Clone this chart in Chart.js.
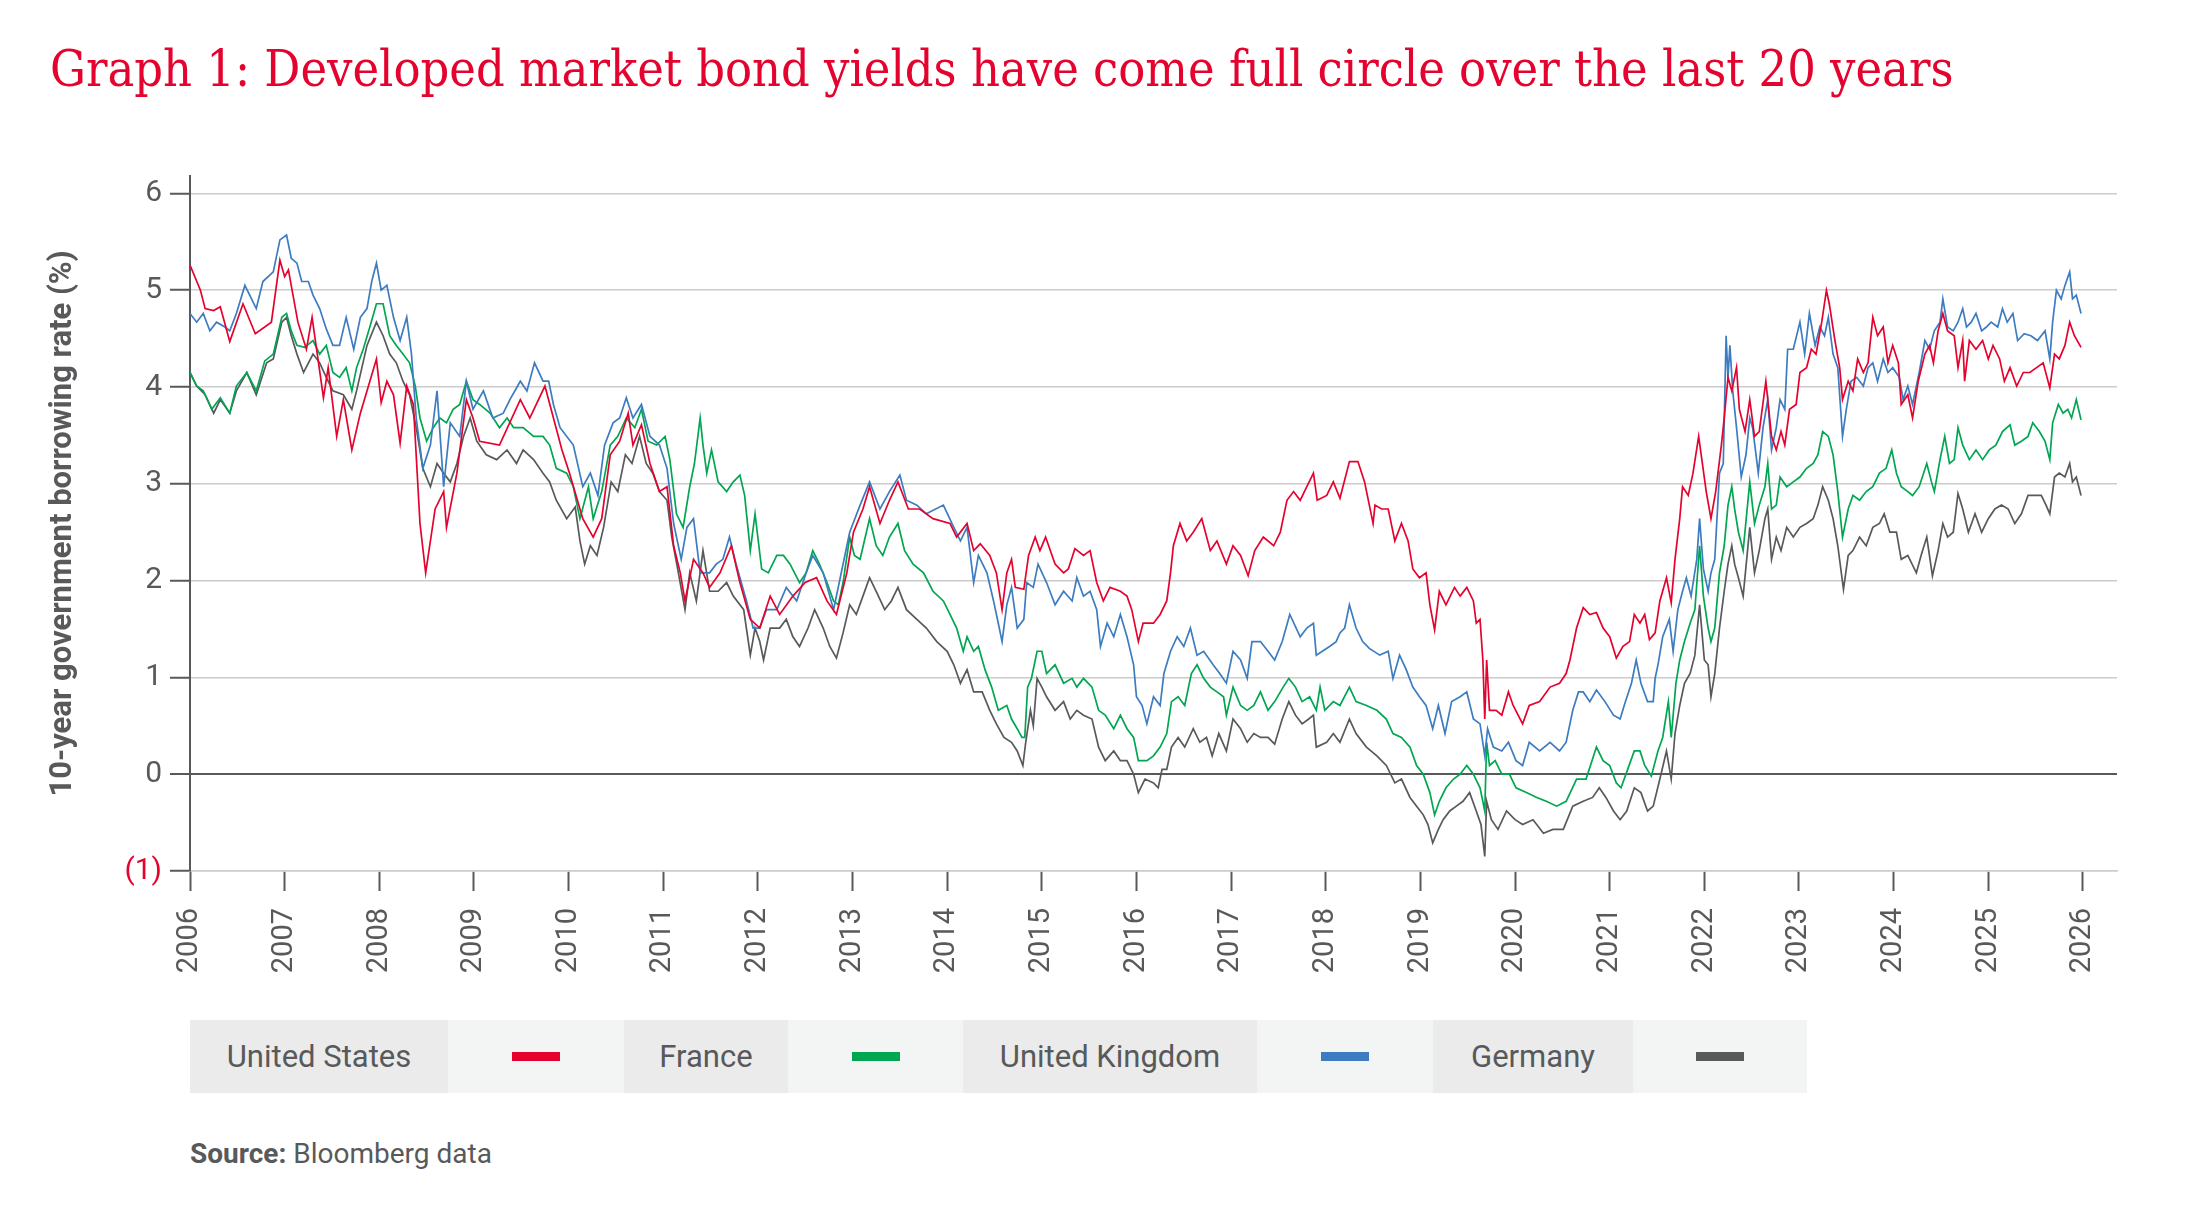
<!DOCTYPE html>
<html>
<head>
<meta charset="utf-8">
<script src="https://cdn.jsdelivr.net/npm/chart.js@4.4.0/dist/chart.umd.min.js"></script>
<style>
  body { margin: 0; background: #fff; width: 2188px; height: 1228px; position: relative; overflow: hidden; font-family: Roboto, sans-serif; color: #58595b; }
  #title { position: absolute; left: 50px; top: 44px; margin: 0; font-family: "DejaVu Serif", serif; font-stretch: condensed; font-weight: normal; font-size: 50px; line-height: 1; color: #e4032e; white-space: nowrap; }
  #chartBox { position: absolute; left: 0; top: 150px; width: 2188px; height: 850px; }
  #legend { position: absolute; left: 190px; top: 1020px; height: 73px; display: flex; }
  #legend div { height: 73px; display: flex; align-items: center; justify-content: center; font-size: 31px; color: #58595b; }
  #legend .lab { background: #ebebeb; }
  #legend .sw { background: #f3f4f4; }
  #legend .sw span { display: block; width: 48px; height: 9px; }
  #source { position: absolute; left: 190px; top: 1140px; font-size: 28px; line-height: 1; color: #58595b; }
</style>
</head>
<body>
<h1 id="title">Graph 1: Developed market bond yields have come full circle over the last 20 years</h1>
<div id="chartBox"><canvas id="bondChart" width="2188" height="850"></canvas></div>
<div id="legend"></div>
<div id="source"><b>Source:</b> Bloomberg data</div>
<script>
// 10-year yields, [decimal year, %]
const usYield = [
  [2006.00,5.26],[2006.11,5.00],[2006.16,4.81],[2006.25,4.79],[2006.32,4.83],[2006.42,4.47],[2006.56,4.86],[2006.69,4.55],[2006.86,4.67],[2006.95,5.31],
  [2007.00,5.14],[2007.04,5.21],[2007.14,4.67],[2007.23,4.39],[2007.29,4.72],[2007.41,3.89],[2007.46,4.20],[2007.55,3.49],[2007.62,3.87],[2007.71,3.35],[2007.80,3.73],[2007.97,4.29],
  [2008.02,3.84],[2008.08,4.06],[2008.15,3.92],[2008.22,3.42],[2008.29,4.01],[2008.36,3.82],[2008.43,2.59],[2008.49,2.08],[2008.59,2.74],[2008.68,2.92],[2008.71,2.55],[2008.82,3.11],[2008.92,3.87],[2008.99,3.68],
  [2009.06,3.44],[2009.27,3.40],[2009.49,3.87],[2009.59,3.68],[2009.75,4.01],[2009.93,3.35],
  [2010.01,3.11],[2010.15,2.64],[2010.26,2.45],[2010.35,2.64],[2010.44,3.30],[2010.54,3.44],[2010.63,3.73],[2010.68,3.40],[2010.77,3.61],[2010.86,3.21],[2010.96,2.92],
  [2011.04,2.97],[2011.11,2.36],[2011.18,2.08],[2011.23,1.79],[2011.32,2.22],[2011.42,2.08],[2011.49,1.93],[2011.60,2.08],[2011.72,2.36],[2011.81,1.98],[2011.92,1.60],
  [2012.02,1.51],[2012.13,1.84],[2012.23,1.65],[2012.37,1.84],[2012.50,1.98],[2012.62,2.03],[2012.73,1.79],[2012.83,1.65],[2012.94,2.08],
  [2013.01,2.50],[2013.11,2.74],[2013.18,2.97],[2013.29,2.59],[2013.39,2.83],[2013.48,3.02],[2013.59,2.74],[2013.71,2.74],[2013.85,2.64],
  [2014.03,2.59],[2014.10,2.45],[2014.21,2.59],[2014.28,2.31],[2014.35,2.38],[2014.45,2.26],[2014.52,2.08],[2014.58,1.70],[2014.63,2.08],[2014.68,2.22],[2014.72,1.93],[2014.81,1.91],[2014.86,2.26],[2014.93,2.45],[2014.98,2.31],
  [2015.04,2.45],[2015.14,2.17],[2015.23,2.08],[2015.28,2.12],[2015.35,2.33],[2015.44,2.26],[2015.51,2.31],[2015.58,1.98],[2015.65,1.79],[2015.72,1.93],[2015.83,1.89],[2015.90,1.84],[2015.95,1.70],
  [2016.02,1.37],[2016.07,1.56],[2016.18,1.56],[2016.25,1.65],[2016.32,1.79],[2016.36,2.08],[2016.39,2.36],[2016.46,2.59],[2016.53,2.41],[2016.60,2.50],[2016.69,2.64],[2016.78,2.31],[2016.85,2.41],[2016.95,2.17],
  [2017.02,2.36],[2017.10,2.26],[2017.18,2.05],[2017.25,2.31],[2017.34,2.45],[2017.45,2.36],[2017.52,2.50],[2017.59,2.83],[2017.66,2.92],[2017.73,2.83],[2017.80,2.97],[2017.87,3.11],[2017.91,2.83],
  [2018.01,2.88],[2018.08,3.02],[2018.15,2.85],[2018.25,3.23],[2018.34,3.23],[2018.41,3.02],[2018.50,2.59],[2018.52,2.78],[2018.59,2.74],[2018.66,2.74],[2018.73,2.41],[2018.80,2.59],[2018.87,2.41],[2018.92,2.12],[2018.99,2.03],
  [2019.06,2.08],[2019.10,1.75],[2019.15,1.49],[2019.20,1.89],[2019.27,1.75],[2019.36,1.93],[2019.42,1.84],[2019.49,1.93],[2019.56,1.79],[2019.59,1.56],[2019.63,1.60],[2019.66,1.18],[2019.68,0.57],[2019.70,1.18],[2019.73,0.66],[2019.80,0.66],[2019.86,0.61],[2019.93,0.85],[2019.98,0.71],
  [2020.08,0.52],[2020.15,0.71],[2020.26,0.75],[2020.37,0.90],[2020.47,0.94],[2020.54,1.04],[2020.58,1.18],[2020.65,1.51],[2020.72,1.72],[2020.79,1.65],[2020.86,1.67],[2020.93,1.51],
  [2021.00,1.42],[2021.07,1.20],[2021.14,1.32],[2021.21,1.37],[2021.26,1.65],[2021.32,1.56],[2021.37,1.65],[2021.42,1.39],[2021.48,1.46],[2021.53,1.79],[2021.60,2.03],[2021.65,1.77],[2021.69,2.22],[2021.74,2.64],[2021.77,2.97],[2021.83,2.88],[2021.88,3.11],[2021.94,3.49],
  [2022.02,2.92],[2022.07,2.64],[2022.12,2.92],[2022.18,3.40],[2022.21,3.68],[2022.25,4.10],[2022.29,3.96],[2022.34,4.20],[2022.37,3.77],[2022.43,3.54],[2022.48,3.87],[2022.53,3.49],[2022.58,3.54],[2022.65,4.06],[2022.71,3.49],[2022.76,3.35],[2022.81,3.54],[2022.85,3.40],[2022.90,3.77],[2022.97,3.82],
  [2023.01,4.15],[2023.08,4.20],[2023.13,4.39],[2023.18,4.34],[2023.24,4.67],[2023.29,5.00],[2023.32,4.86],[2023.38,4.48],[2023.43,4.20],[2023.46,3.87],[2023.52,4.06],[2023.57,3.96],[2023.62,4.29],[2023.68,4.15],[2023.73,4.25],[2023.78,4.72],[2023.83,4.53],[2023.89,4.62],[2023.94,4.25],[2023.99,4.43],
  [2024.05,4.25],[2024.08,3.82],[2024.15,3.92],[2024.20,3.68],[2024.26,4.06],[2024.33,4.34],[2024.38,4.43],[2024.42,4.25],[2024.47,4.58],[2024.52,4.76],[2024.57,4.58],[2024.64,4.53],[2024.68,4.20],[2024.73,4.48],[2024.75,4.06],[2024.80,4.48],[2024.87,4.39],[2024.94,4.48],
  [2025.00,4.29],[2025.05,4.43],[2025.12,4.29],[2025.17,4.06],[2025.23,4.20],[2025.30,4.01],[2025.37,4.15],[2025.44,4.15],[2025.51,4.20],[2025.58,4.25],[2025.65,3.99],[2025.70,4.34],[2025.75,4.29],[2025.81,4.43],[2025.86,4.67],[2025.91,4.53],[2025.98,4.41]
];

const ukYield = [
  [2006.00,4.76],[2006.07,4.67],[2006.14,4.76],[2006.21,4.58],[2006.28,4.67],[2006.37,4.62],[2006.42,4.58],[2006.49,4.76],[2006.58,5.05],[2006.65,4.91],[2006.70,4.81],[2006.77,5.09],[2006.88,5.19],[2006.95,5.52],
  [2007.02,5.57],[2007.07,5.33],[2007.13,5.28],[2007.18,5.09],[2007.25,5.09],[2007.30,4.95],[2007.37,4.81],[2007.44,4.60],[2007.51,4.43],[2007.58,4.43],[2007.65,4.72],[2007.73,4.39],[2007.80,4.72],[2007.87,4.81],[2007.92,5.09],[2007.97,5.28],
  [2008.02,5.00],[2008.08,5.05],[2008.15,4.72],[2008.22,4.48],[2008.29,4.72],[2008.34,4.34],[2008.39,3.68],[2008.46,3.16],[2008.54,3.40],[2008.61,3.96],[2008.68,2.97],[2008.75,3.63],[2008.85,3.49],[2008.92,4.06],[2008.99,3.77],
  [2009.10,3.96],[2009.20,3.68],[2009.31,3.73],[2009.38,3.87],[2009.49,4.06],[2009.56,3.96],[2009.64,4.25],[2009.73,4.06],[2009.79,4.06],[2009.84,3.82],[2009.91,3.58],
  [2010.05,3.40],[2010.15,2.97],[2010.23,3.11],[2010.31,2.88],[2010.38,3.40],[2010.47,3.63],[2010.54,3.68],[2010.61,3.89],[2010.68,3.68],[2010.77,3.82],[2010.86,3.49],[2010.96,3.40],
  [2011.04,3.16],[2011.11,2.59],[2011.19,2.22],[2011.25,2.55],[2011.32,2.64],[2011.39,2.08],[2011.49,2.08],[2011.56,2.17],[2011.63,2.22],[2011.70,2.45],[2011.77,2.17],[2011.88,1.79],[2011.95,1.51],
  [2012.02,1.51],[2012.09,1.70],[2012.20,1.70],[2012.30,1.93],[2012.41,1.79],[2012.51,2.08],[2012.58,2.26],[2012.69,2.08],[2012.80,1.70],[2012.87,2.03],[2012.97,2.50],
  [2013.08,2.78],[2013.18,3.02],[2013.29,2.74],[2013.39,2.92],[2013.50,3.09],[2013.57,2.83],[2013.68,2.78],[2013.78,2.69],[2013.96,2.78],
  [2014.07,2.55],[2014.14,2.41],[2014.21,2.55],[2014.28,1.98],[2014.33,2.26],[2014.42,2.08],[2014.49,1.79],[2014.54,1.56],[2014.58,1.37],[2014.63,1.75],[2014.68,1.93],[2014.74,1.51],[2014.81,1.60],[2014.84,1.98],[2014.91,1.93],[2014.96,2.17],
  [2015.05,1.98],[2015.14,1.75],[2015.23,1.89],[2015.32,1.79],[2015.37,2.03],[2015.44,1.84],[2015.51,1.89],[2015.58,1.70],[2015.62,1.32],[2015.69,1.56],[2015.76,1.42],[2015.83,1.65],[2015.90,1.42],[2015.97,1.13],
  [2016.00,0.80],[2016.06,0.71],[2016.11,0.52],[2016.18,0.80],[2016.25,0.71],[2016.29,1.04],[2016.36,1.27],[2016.43,1.42],[2016.50,1.32],[2016.57,1.51],[2016.64,1.23],[2016.71,1.27],[2016.81,1.13],[2016.88,1.04],[2016.95,0.94],
  [2017.02,1.27],[2017.10,1.18],[2017.17,0.99],[2017.22,1.37],[2017.31,1.37],[2017.39,1.27],[2017.46,1.18],[2017.54,1.37],[2017.62,1.65],[2017.73,1.42],[2017.80,1.51],[2017.87,1.56],[2017.90,1.23],
  [2018.04,1.32],[2018.11,1.37],[2018.15,1.46],[2018.20,1.51],[2018.25,1.75],[2018.32,1.51],[2018.39,1.37],[2018.46,1.30],[2018.57,1.23],[2018.66,1.27],[2018.71,0.99],[2018.78,1.23],[2018.85,1.08],[2018.92,0.90],[2018.99,0.80],
  [2019.06,0.71],[2019.13,0.47],[2019.19,0.71],[2019.26,0.42],[2019.33,0.75],[2019.42,0.80],[2019.49,0.85],[2019.56,0.57],[2019.63,0.52],[2019.68,0.19],[2019.71,0.47],[2019.77,0.28],[2019.86,0.24],[2019.93,0.33],
  [2020.01,0.14],[2020.08,0.09],[2020.15,0.33],[2020.26,0.24],[2020.37,0.33],[2020.47,0.24],[2020.54,0.33],[2020.61,0.66],[2020.67,0.85],[2020.72,0.85],[2020.79,0.75],[2020.86,0.87],[2020.95,0.75],
  [2021.04,0.61],[2021.11,0.57],[2021.16,0.73],[2021.23,0.94],[2021.28,1.18],[2021.33,0.94],[2021.40,0.75],[2021.46,0.75],[2021.48,0.99],[2021.51,1.13],[2021.56,1.42],[2021.63,1.60],[2021.67,1.27],[2021.72,1.70],[2021.77,1.89],[2021.81,2.03],[2021.86,1.84],[2021.92,2.22],[2021.95,2.64],[2021.99,2.12],
  [2022.04,1.89],[2022.07,2.08],[2022.11,2.22],[2022.16,3.11],[2022.20,3.21],[2022.23,4.53],[2022.25,4.10],[2022.27,4.43],[2022.30,3.96],[2022.34,3.58],[2022.39,3.07],[2022.44,3.30],[2022.48,3.68],[2022.51,3.58],[2022.57,3.11],[2022.62,3.58],[2022.67,3.87],[2022.71,3.35],[2022.76,3.58],[2022.80,3.87],[2022.85,3.77],[2022.88,4.39],[2022.94,4.39],
  [2023.01,4.67],[2023.06,4.34],[2023.11,4.76],[2023.17,4.43],[2023.22,4.62],[2023.27,4.53],[2023.31,4.72],[2023.36,4.34],[2023.41,4.20],[2023.46,3.49],[2023.50,3.77],[2023.55,4.06],[2023.61,4.10],[2023.68,4.01],[2023.73,4.20],[2023.78,4.25],[2023.83,4.06],[2023.89,4.29],[2023.94,4.15],[2023.99,4.20],
  [2024.06,4.10],[2024.10,3.87],[2024.15,4.01],[2024.20,3.82],[2024.27,4.15],[2024.33,4.48],[2024.38,4.39],[2024.43,4.58],[2024.49,4.67],[2024.52,4.91],[2024.57,4.62],[2024.63,4.58],[2024.68,4.67],[2024.73,4.81],[2024.77,4.62],[2024.82,4.67],[2024.87,4.76],[2024.93,4.58],[2024.98,4.62],
  [2025.03,4.67],[2025.10,4.62],[2025.15,4.81],[2025.20,4.67],[2025.26,4.76],[2025.31,4.48],[2025.38,4.55],[2025.45,4.53],[2025.52,4.48],[2025.60,4.58],[2025.65,4.29],[2025.68,4.67],[2025.72,5.00],[2025.77,4.91],[2025.81,5.05],[2025.86,5.19],[2025.89,4.91],[2025.93,4.95],[2025.98,4.76]
];

const frYield = [
  [2006.00,4.15],[2006.07,4.01],[2006.14,3.96],[2006.23,3.77],[2006.32,3.89],[2006.42,3.73],[2006.49,4.01],[2006.60,4.15],[2006.70,3.96],[2006.79,4.27],[2006.88,4.34],[2006.97,4.72],
  [2007.02,4.76],[2007.07,4.58],[2007.13,4.43],[2007.21,4.41],[2007.30,4.48],[2007.37,4.34],[2007.44,4.43],[2007.51,4.15],[2007.58,4.10],[2007.65,4.20],[2007.71,3.96],[2007.76,4.20],[2007.83,4.39],[2007.90,4.62],[2007.97,4.86],
  [2008.04,4.86],[2008.11,4.53],[2008.18,4.43],[2008.25,4.34],[2008.32,4.25],[2008.38,4.01],[2008.43,3.68],[2008.50,3.44],[2008.57,3.58],[2008.64,3.68],[2008.71,3.63],[2008.78,3.77],[2008.85,3.82],[2008.92,4.06],[2008.99,3.87],
  [2009.06,3.82],[2009.17,3.73],[2009.27,3.58],[2009.35,3.68],[2009.42,3.58],[2009.52,3.58],[2009.63,3.49],[2009.73,3.49],[2009.80,3.40],[2009.87,3.16],[2009.98,3.11],
  [2010.05,2.97],[2010.12,2.64],[2010.21,2.97],[2010.26,2.64],[2010.35,2.92],[2010.44,3.40],[2010.52,3.49],[2010.61,3.68],[2010.70,3.58],[2010.77,3.77],[2010.84,3.44],[2010.93,3.40],
  [2011.02,3.49],[2011.07,3.25],[2011.14,2.69],[2011.21,2.55],[2011.28,2.97],[2011.33,3.21],[2011.39,3.68],[2011.42,3.40],[2011.46,3.11],[2011.51,3.35],[2011.58,3.02],[2011.67,2.92],[2011.74,3.02],[2011.81,3.09],[2011.86,2.88],[2011.92,2.31],[2011.97,2.69],
  [2012.04,2.12],[2012.11,2.08],[2012.20,2.26],[2012.27,2.26],[2012.34,2.17],[2012.44,1.98],[2012.51,2.08],[2012.58,2.31],[2012.65,2.17],[2012.73,1.98],[2012.80,1.79],[2012.85,1.75],[2012.90,1.98],[2012.97,2.45],
  [2013.02,2.26],[2013.08,2.22],[2013.18,2.64],[2013.25,2.36],[2013.32,2.26],[2013.39,2.45],[2013.48,2.59],[2013.55,2.31],[2013.64,2.17],[2013.75,2.08],[2013.85,1.89],[2013.96,1.79],
  [2014.03,1.65],[2014.10,1.51],[2014.17,1.27],[2014.21,1.42],[2014.28,1.27],[2014.33,1.32],[2014.40,1.08],[2014.47,0.90],[2014.54,0.66],[2014.63,0.71],[2014.68,0.57],[2014.74,0.47],[2014.79,0.38],[2014.82,0.38],[2014.85,0.90],[2014.89,0.99],[2014.95,1.27],
  [2015.00,1.27],[2015.05,1.04],[2015.14,1.13],[2015.23,0.94],[2015.32,0.99],[2015.37,0.90],[2015.44,0.99],[2015.53,0.90],[2015.60,0.66],[2015.67,0.61],[2015.76,0.47],[2015.83,0.61],[2015.90,0.47],[2015.97,0.38],
  [2016.02,0.14],[2016.11,0.14],[2016.18,0.19],[2016.25,0.28],[2016.32,0.42],[2016.37,0.75],[2016.44,0.80],[2016.51,0.71],[2016.58,1.04],[2016.64,1.13],[2016.71,0.99],[2016.78,0.90],[2016.85,0.85],[2016.92,0.80],[2016.95,0.61],
  [2017.02,0.90],[2017.10,0.71],[2017.17,0.66],[2017.24,0.71],[2017.31,0.85],[2017.39,0.66],[2017.46,0.75],[2017.55,0.90],[2017.61,0.99],[2017.68,0.90],[2017.75,0.75],[2017.83,0.80],[2017.90,0.66],[2017.94,0.90],[2017.99,0.66],
  [2018.08,0.75],[2018.15,0.71],[2018.25,0.90],[2018.32,0.75],[2018.43,0.71],[2018.54,0.66],[2018.64,0.57],[2018.71,0.42],[2018.80,0.38],[2018.89,0.28],[2018.96,0.09],
  [2019.03,0.00],[2019.10,-0.19],[2019.15,-0.42],[2019.20,-0.28],[2019.27,-0.14],[2019.35,-0.05],[2019.42,0.00],[2019.49,0.09],[2019.56,0.00],[2019.63,-0.14],[2019.68,-0.38],[2019.70,0.33],[2019.73,0.09],[2019.79,0.14],[2019.86,0.00],[2019.94,0.00],
  [2020.01,-0.14],[2020.12,-0.19],[2020.23,-0.24],[2020.33,-0.28],[2020.44,-0.33],[2020.54,-0.28],[2020.65,-0.05],[2020.75,-0.05],[2020.86,0.28],[2020.93,0.14],
  [2021.00,0.09],[2021.07,-0.09],[2021.12,-0.14],[2021.19,0.05],[2021.26,0.24],[2021.32,0.24],[2021.37,0.09],[2021.44,-0.02],[2021.51,0.24],[2021.56,0.38],[2021.62,0.75],[2021.65,0.38],[2021.70,0.94],[2021.74,1.18],[2021.79,1.37],[2021.85,1.56],[2021.90,1.70],[2021.95,2.36],[2021.99,1.84],
  [2022.04,1.51],[2022.07,1.37],[2022.11,1.51],[2022.16,2.08],[2022.21,2.36],[2022.25,2.78],[2022.29,2.97],[2022.32,2.74],[2022.36,2.50],[2022.41,2.31],[2022.48,3.02],[2022.53,2.59],[2022.58,2.78],[2022.64,2.97],[2022.67,3.21],[2022.71,2.74],[2022.76,2.78],[2022.80,3.07],[2022.87,2.97],[2022.94,3.02],
  [2023.01,3.07],[2023.08,3.16],[2023.15,3.21],[2023.20,3.30],[2023.25,3.54],[2023.31,3.49],[2023.36,3.30],[2023.41,2.92],[2023.46,2.45],[2023.52,2.74],[2023.57,2.88],[2023.64,2.83],[2023.71,2.92],[2023.78,2.97],[2023.85,3.11],[2023.92,3.16],[2023.98,3.35],
  [2024.03,3.11],[2024.08,2.97],[2024.15,2.92],[2024.20,2.88],[2024.27,2.97],[2024.35,3.21],[2024.40,3.02],[2024.43,2.92],[2024.49,3.25],[2024.54,3.49],[2024.59,3.21],[2024.64,3.25],[2024.68,3.58],[2024.73,3.40],[2024.80,3.25],[2024.87,3.35],[2024.94,3.25],
  [2025.01,3.35],[2025.08,3.40],[2025.15,3.54],[2025.23,3.61],[2025.28,3.40],[2025.35,3.44],[2025.42,3.49],[2025.47,3.63],[2025.54,3.54],[2025.60,3.44],[2025.65,3.25],[2025.68,3.63],[2025.74,3.82],[2025.79,3.73],[2025.84,3.77],[2025.88,3.68],[2025.93,3.87],[2025.98,3.66]
];

const deYield = [
  [2006.00,4.15],[2006.07,4.01],[2006.16,3.92],[2006.25,3.73],[2006.32,3.87],[2006.42,3.73],[2006.49,3.96],[2006.60,4.15],[2006.70,3.92],[2006.81,4.25],[2006.88,4.29],[2006.97,4.67],
  [2007.02,4.72],[2007.07,4.53],[2007.13,4.34],[2007.20,4.15],[2007.30,4.34],[2007.37,4.25],[2007.44,4.10],[2007.51,3.96],[2007.62,3.92],[2007.71,3.77],[2007.76,3.96],[2007.87,4.43],[2007.97,4.67],
  [2008.04,4.53],[2008.11,4.34],[2008.18,4.25],[2008.25,4.06],[2008.32,3.92],[2008.39,3.58],[2008.46,3.16],[2008.54,2.97],[2008.61,3.21],[2008.68,3.11],[2008.75,3.02],[2008.82,3.21],[2008.89,3.49],[2008.96,3.68],
  [2009.03,3.44],[2009.13,3.30],[2009.24,3.25],[2009.35,3.35],[2009.45,3.21],[2009.52,3.35],[2009.63,3.25],[2009.73,3.11],[2009.80,3.02],[2009.87,2.83],[2009.98,2.64],
  [2010.07,2.76],[2010.12,2.41],[2010.17,2.17],[2010.23,2.36],[2010.30,2.26],[2010.37,2.55],[2010.45,3.02],[2010.52,2.92],[2010.60,3.30],[2010.67,3.21],[2010.75,3.49],[2010.82,3.21],[2010.89,3.11],[2010.96,2.92],
  [2011.04,2.83],[2011.09,2.45],[2011.16,2.08],[2011.23,1.70],[2011.28,2.08],[2011.35,1.79],[2011.42,2.31],[2011.49,1.89],[2011.58,1.89],[2011.67,1.98],[2011.74,1.84],[2011.85,1.70],[2011.92,1.23],[2011.97,1.51],
  [2012.02,1.37],[2012.06,1.18],[2012.13,1.51],[2012.23,1.51],[2012.30,1.60],[2012.37,1.42],[2012.44,1.32],[2012.53,1.51],[2012.60,1.70],[2012.69,1.51],[2012.76,1.32],[2012.83,1.20],[2012.90,1.46],[2012.97,1.75],
  [2013.04,1.65],[2013.11,1.84],[2013.18,2.03],[2013.25,1.89],[2013.34,1.70],[2013.41,1.79],[2013.48,1.93],[2013.57,1.70],[2013.68,1.60],[2013.78,1.51],[2013.89,1.37],
  [2014.00,1.27],[2014.07,1.13],[2014.14,0.94],[2014.21,1.08],[2014.28,0.85],[2014.37,0.85],[2014.45,0.66],[2014.52,0.52],[2014.60,0.38],[2014.68,0.33],[2014.74,0.24],[2014.80,0.09],[2014.83,0.33],[2014.88,0.66],[2014.91,0.50],[2014.95,0.99],
  [2015.00,0.90],[2015.05,0.80],[2015.14,0.66],[2015.23,0.75],[2015.30,0.57],[2015.37,0.66],[2015.44,0.61],[2015.53,0.57],[2015.60,0.28],[2015.67,0.14],[2015.76,0.24],[2015.83,0.14],[2015.90,0.14],[2015.97,0.00],
  [2016.02,-0.19],[2016.09,-0.05],[2016.18,-0.09],[2016.23,-0.14],[2016.27,0.05],[2016.32,0.05],[2016.37,0.28],[2016.44,0.38],[2016.51,0.28],[2016.60,0.47],[2016.67,0.33],[2016.74,0.38],[2016.80,0.19],[2016.87,0.42],[2016.95,0.24],
  [2017.02,0.57],[2017.10,0.47],[2017.17,0.33],[2017.24,0.42],[2017.31,0.38],[2017.39,0.38],[2017.46,0.31],[2017.54,0.57],[2017.61,0.75],[2017.68,0.61],[2017.75,0.52],[2017.82,0.57],[2017.87,0.61],[2017.90,0.28],
  [2018.01,0.33],[2018.08,0.42],[2018.15,0.33],[2018.25,0.57],[2018.32,0.42],[2018.43,0.28],[2018.54,0.19],[2018.64,0.09],[2018.73,-0.09],[2018.80,-0.05],[2018.89,-0.24],[2018.96,-0.33],
  [2019.03,-0.42],[2019.08,-0.52],[2019.13,-0.71],[2019.19,-0.57],[2019.24,-0.47],[2019.31,-0.38],[2019.38,-0.33],[2019.45,-0.28],[2019.52,-0.19],[2019.59,-0.38],[2019.64,-0.52],[2019.68,-0.85],[2019.70,-0.28],[2019.75,-0.47],[2019.82,-0.57],[2019.91,-0.38],
  [2020.00,-0.47],[2020.08,-0.52],[2020.19,-0.47],[2020.30,-0.61],[2020.40,-0.57],[2020.51,-0.57],[2020.61,-0.33],[2020.72,-0.28],[2020.82,-0.24],[2020.89,-0.14],[2020.96,-0.24],
  [2021.04,-0.38],[2021.11,-0.47],[2021.18,-0.38],[2021.26,-0.14],[2021.33,-0.19],[2021.40,-0.38],[2021.46,-0.33],[2021.53,-0.05],[2021.60,0.24],[2021.65,-0.05],[2021.69,0.42],[2021.74,0.71],[2021.79,0.94],[2021.85,1.04],[2021.90,1.23],[2021.95,1.75],
  [2022.00,1.18],[2022.04,1.13],[2022.07,0.80],[2022.11,1.04],[2022.16,1.51],[2022.21,1.89],[2022.25,2.17],[2022.29,2.36],[2022.32,2.17],[2022.36,2.03],[2022.41,1.84],[2022.48,2.55],[2022.53,2.08],[2022.58,2.31],[2022.64,2.64],[2022.67,2.74],[2022.71,2.22],[2022.76,2.45],[2022.81,2.31],[2022.87,2.55],[2022.94,2.45],
  [2023.01,2.55],[2023.08,2.59],[2023.15,2.64],[2023.20,2.78],[2023.25,2.97],[2023.31,2.83],[2023.36,2.64],[2023.41,2.36],[2023.47,1.91],[2023.52,2.26],[2023.57,2.31],[2023.64,2.45],[2023.71,2.36],[2023.78,2.55],[2023.85,2.59],[2023.90,2.69],[2023.96,2.50],
  [2024.03,2.50],[2024.08,2.22],[2024.15,2.26],[2024.24,2.08],[2024.29,2.26],[2024.35,2.45],[2024.41,2.05],[2024.47,2.31],[2024.52,2.59],[2024.57,2.45],[2024.63,2.50],[2024.68,2.90],[2024.73,2.74],[2024.79,2.50],[2024.86,2.69],[2024.93,2.50],
  [2025.00,2.64],[2025.07,2.74],[2025.14,2.78],[2025.21,2.74],[2025.28,2.59],[2025.35,2.69],[2025.42,2.88],[2025.49,2.88],[2025.56,2.88],[2025.61,2.78],[2025.65,2.69],[2025.70,3.07],[2025.75,3.11],[2025.81,3.07],[2025.86,3.21],[2025.89,3.02],[2025.93,3.07],[2025.98,2.88]
];

const seriesNames = ['United States', 'France', 'United Kingdom', 'Germany'];
const seriesColors = ['#e4032e', '#00a651', '#3d7cc0', '#58595b'];
const yearTicks = [2006, 2007, 2008, 2009, 2010, 2011, 2012, 2013, 2014, 2015, 2016, 2017, 2018, 2019, 2020, 2021, 2022, 2023, 2024, 2025, 2026];
const rateTicks = [-1, 0, 1, 2, 3, 4, 5, 6];

const textGrey = '#58595b';
const gridGrey = '#cccccc';

function toPoints(arr) {
    return arr.map(p => ({ x: p[0], y: p[1] }));
}

// legend strip (label cell + swatch cell)
const legendWidths = [[258, 176], [164, 175], [294, 176], [200, 174]];
const legendEl = document.getElementById('legend');
seriesNames.forEach((name, i) => {
    const lab = document.createElement('div');
    lab.className = 'lab';
    lab.style.width = legendWidths[i][0] + 'px';
    lab.textContent = name;
    const sw = document.createElement('div');
    sw.className = 'sw';
    sw.style.width = legendWidths[i][1] + 'px';
    const bar = document.createElement('span');
    bar.style.background = seriesColors[i];
    sw.appendChild(bar);
    legendEl.appendChild(lab);
    legendEl.appendChild(sw);
});

// drawing order: US on top, Germany at the bottom
const lineData = [usYield, ukYield, frYield, deYield];
const lineColors = [seriesColors[0], seriesColors[2], seriesColors[1], seriesColors[3]];
const lineNames = [seriesNames[0], seriesNames[2], seriesNames[1], seriesNames[3]];

const ctx = document.getElementById('bondChart').getContext('2d');
new Chart(ctx, {
    type: 'line',
    data: {
        datasets: lineData.map((d, i) => ({
            label: lineNames[i],
            data: toPoints(d),
            borderColor: lineColors[i],
            borderWidth: 1.7,
            pointRadius: 0,
            tension: 0,
            fill: false
        }))
    },
    options: {
        responsive: false,
        animation: false,
        layout: { padding: { top: 24, right: 71, left: 0, bottom: 0 } },
        plugins: {
            legend: { display: false },
            tooltip: { enabled: false }
        },
        scales: {
            x: {
                type: 'linear',
                min: 2006,
                max: 2026.36,
                afterBuildTicks: (scale) => { scale.ticks = yearTicks.map(v => ({ value: v })); },
                afterFit: (scale) => { scale.height = 129; },
                border: { color: gridGrey, width: 1.5 },
                grid: {
                    drawOnChartArea: false,
                    drawTicks: true,
                    tickLength: 20,
                    tickColor: textGrey,
                    tickWidth: 2
                },
                ticks: {
                    minRotation: 90,
                    maxRotation: 90,
                    padding: 17,
                    color: textGrey,
                    font: { family: 'Roboto', size: 29 },
                    callback: (v) => String(v)
                }
            },
            y: {
                min: -1,
                max: 6.18,
                afterBuildTicks: (scale) => { scale.ticks = rateTicks.map(v => ({ value: v })); },
                afterFit: (scale) => { scale.width = 190; },
                border: { color: textGrey, width: 2 },
                grid: {
                    color: (c) => c.tick && c.tick.value === 0 ? textGrey : gridGrey,
                    lineWidth: (c) => c.tick && c.tick.value === 0 ? 2 : 1.5,
                    tickColor: textGrey,
                    tickWidth: 2,
                    tickLength: 20
                },
                ticks: {
                    padding: 8,
                    color: (c) => c.tick && c.tick.value < 0 ? '#e4032e' : textGrey,
                    font: { family: 'Roboto', size: 30 },
                    callback: (v) => v < 0 ? '(' + Math.abs(v) + ')' : String(v)
                },
                title: {
                    display: true,
                    text: '10-year government borrowing rate (%)',
                    color: textGrey,
                    font: { family: 'Roboto', size: 31, weight: 'bold' },
                    padding: { top: 45, bottom: 0 }
                }
            }
        }
    }
});
</script>
</body>
</html>
